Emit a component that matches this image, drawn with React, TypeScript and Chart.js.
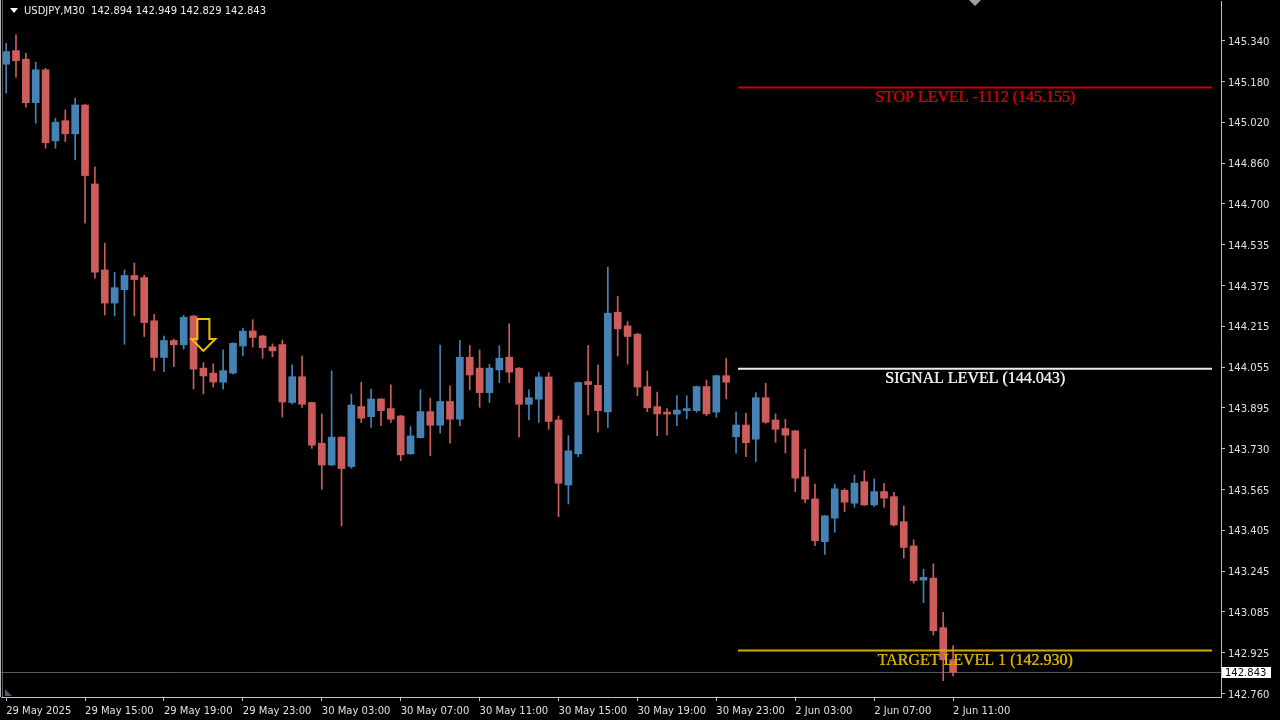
import { useEffect, useRef } from 'react';
import { Chart, registerables } from 'chart.js';

Chart.register(...registerables);

// ---------- data ----------
const SYMBOL = 'USDJPY,M30';

const OPEN = [
  145.247, 145.301, 145.267, 145.095, 145.225, 144.944, 145.024, 144.972, 145.086, 144.774,
  144.434, 144.303, 144.356, 144.412, 144.404, 144.233, 144.088, 144.155, 144.138, 144.252,
  144.046, 144.026, 143.990, 144.026, 144.133, 144.193, 144.173, 144.130, 144.139, 143.910,
  144.012, 143.910, 143.749, 143.663, 143.773, 143.657, 143.894, 143.854, 143.924, 143.886,
  143.857, 143.707, 143.771, 143.874, 143.820, 143.914, 143.844, 144.089, 144.046, 143.949,
  144.039, 144.089, 144.046, 143.903, 143.923, 144.011, 143.841, 143.584, 143.707, 143.993,
  143.978, 143.873, 144.267, 144.213, 144.180, 143.973, 143.894, 143.872, 143.864, 143.878,
  143.878, 143.973, 143.872, 144.016, 143.775, 143.821, 143.765, 143.929, 143.841, 143.807,
  143.798, 143.616, 143.529, 143.360, 143.453, 143.563, 143.512, 143.597, 143.505, 143.558,
  143.538, 143.439, 143.343, 143.208, 143.216, 143.020, 142.894,
];
const HIGH = [
  145.330, 145.363, 145.291, 145.255, 145.231, 145.034, 145.067, 145.113, 145.088, 144.842,
  144.540, 144.425, 144.434, 144.461, 144.414, 144.259, 144.173, 144.161, 144.255, 144.254,
  144.068, 144.063, 144.118, 144.146, 144.204, 144.237, 144.175, 144.142, 144.157, 144.059,
  144.094, 143.912, 143.865, 144.035, 143.775, 143.943, 143.990, 143.963, 143.926, 143.980,
  143.859, 143.815, 143.960, 143.927, 144.137, 143.976, 144.156, 144.135, 144.118, 144.061,
  144.135, 144.221, 144.048, 143.960, 144.028, 144.028, 143.857, 143.779, 143.991, 144.135,
  144.059, 144.445, 144.329, 144.230, 144.184, 144.035, 143.951, 143.886, 143.937, 143.937,
  143.975, 143.999, 144.018, 144.084, 143.873, 143.868, 143.949, 143.986, 143.865, 143.844,
  143.800, 143.725, 143.588, 143.464, 143.588, 143.569, 143.624, 143.640, 143.608, 143.591,
  143.555, 143.501, 143.367, 143.251, 143.272, 143.081, 142.949,
];
const LOW = [
  145.133, 145.196, 145.077, 145.014, 144.915, 144.915, 144.941, 144.869, 144.619, 144.401,
  144.256, 144.252, 144.140, 144.252, 144.171, 144.036, 144.032, 144.052, 144.121, 143.963,
  143.944, 143.971, 143.963, 144.023, 144.094, 144.129, 144.085, 144.091, 143.852, 143.904,
  143.891, 143.729, 143.567, 143.661, 143.422, 143.650, 143.831, 143.812, 143.818, 143.831,
  143.680, 143.705, 143.769, 143.700, 143.789, 143.749, 143.818, 143.960, 143.891, 143.910,
  143.989, 143.989, 143.773, 143.841, 143.831, 143.804, 143.459, 143.509, 143.696, 143.861,
  143.793, 143.812, 144.094, 144.061, 143.937, 143.874, 143.779, 143.782, 143.818, 143.846,
  143.872, 143.858, 143.852, 143.924, 143.710, 143.696, 143.676, 143.828, 143.753, 143.710,
  143.558, 143.514, 143.344, 143.310, 143.397, 143.479, 143.496, 143.503, 143.499, 143.495,
  143.422, 143.295, 143.196, 143.119, 142.991, 142.811, 142.829,
];
const CLOSE = [
  145.297, 145.261, 145.095, 145.225, 144.937, 145.018, 144.972, 145.086, 144.807, 144.425,
  144.303, 144.364, 144.412, 144.396, 144.226, 144.088, 144.155, 144.138, 144.247, 144.042,
  144.015, 143.991, 144.036, 144.144, 144.192, 144.167, 144.127, 144.114, 143.912, 144.012,
  143.903, 143.741, 143.663, 143.773, 143.649, 143.900, 143.848, 143.924, 143.878, 143.844,
  143.703, 143.778, 143.874, 143.820, 143.914, 143.844, 144.089, 144.019, 143.949, 144.046,
  144.085, 144.030, 143.903, 143.929, 144.011, 143.835, 143.591, 143.719, 143.989, 143.981,
  143.878, 144.263, 144.201, 144.171, 143.971, 143.889, 143.865, 143.864, 143.880, 143.886,
  143.973, 143.865, 144.016, 143.990, 143.821, 143.751, 143.929, 143.832, 143.804, 143.781,
  143.611, 143.528, 143.364, 143.462, 143.569, 143.516, 143.591, 143.505, 143.558, 143.532,
  143.426, 143.337, 143.206, 143.219, 143.008, 142.893, 142.843,
];

const X_LABEL_INDEX = [0, 8, 16, 24, 32, 40, 48, 56, 64, 72, 80, 88, 96];
const X_LABELS = [
  '29 May 2025', '29 May 15:00', '29 May 19:00', '29 May 23:00', '30 May 03:00',
  '30 May 07:00', '30 May 11:00', '30 May 15:00', '30 May 19:00', '30 May 23:00',
  '2 Jun 03:00', '2 Jun 07:00', '2 Jun 11:00',
];
const Y_TICK_LABELS = [
  '142.760', '142.925', '143.085', '143.245', '143.405', '143.565', '143.730', '143.895',
  '144.055', '144.215', '144.375', '144.535', '144.700', '144.860', '145.020', '145.180', '145.340',
];

const LEVEL_NAMES = ['STOP LEVEL -1112 (145.155)', 'SIGNAL LEVEL (144.043)', 'TARGET LEVEL 1 (142.930)'];
const LEVEL_PRICES = [145.155, 144.043, 142.93];
const LEVEL_COLORS = ['#cc0000', '#ececec', '#d4ac00'];
const LEVEL_START = 74.2;
const LEVEL_END = 122.25;

const SIGNAL_INDEX = 20;
const SIGNAL_PRICE = 144.114;

// ---------- view ----------
const X_MIN = -0.52;
const X_MAX = 123.16;
const Y_MIN = 142.746;
const Y_MAX = 145.497;

const UP = '#4682b4';
const DOWN = '#cd5c5c';
const AXIS_COLOR = '#c0c0c0';
const TEXT_COLOR = '#e0e0e0';
const AXIS_FONT = { family: 'DejaVu Sans', size: 10 };

const LAST = OPEN.length - 1;
const BID = CLOSE[LAST];

const Y_FIRST = parseFloat(Y_TICK_LABELS[0]);
const Y_LAST = parseFloat(Y_TICK_LABELS[Y_TICK_LABELS.length - 1]);
const Y_STEP = (Y_LAST - Y_FIRST) / (Y_TICK_LABELS.length - 1);

const candleColors = OPEN.map((o, i) => (CLOSE[i] >= o ? UP : DOWN));

const overlay = {
  id: 'mtOverlay',
  beforeDraw(chart: any) {
    const { ctx, width, height } = chart;
    ctx.save();
    ctx.fillStyle = '#000';
    ctx.fillRect(0, 0, width, height);
    ctx.restore();
  },
  afterDatasetsDraw(chart: any) {
    const { ctx, scales } = chart;
    const xs = scales.x;
    const ys = scales.y;
    ctx.save();
    // level labels
    ctx.font = '16px "Liberation Serif", "DejaVu Serif", serif';
    ctx.textAlign = 'center';
    ctx.textBaseline = 'middle';
    LEVEL_NAMES.forEach((name, k) => {
      const cx = (xs.getPixelForValue(LEVEL_START) + xs.getPixelForValue(LEVEL_END)) / 2;
      const cy = ys.getPixelForValue(LEVEL_PRICES[k]) + 10;
      ctx.fillStyle = LEVEL_COLORS[k];
      ctx.fillText(name, cx, cy);
      ctx.fillText(name, cx + 0.4, cy);
    });
    // signal arrow
    const tx = xs.getPixelForValue(SIGNAL_INDEX);
    const ty = ys.getPixelForValue(SIGNAL_PRICE);
    ctx.beginPath();
    ctx.moveTo(tx - 6, ty - 32);
    ctx.lineTo(tx + 6, ty - 32);
    ctx.lineTo(tx + 6, ty - 12);
    ctx.lineTo(tx + 12, ty - 12);
    ctx.lineTo(tx, ty);
    ctx.lineTo(tx - 12, ty - 12);
    ctx.lineTo(tx - 6, ty - 12);
    ctx.closePath();
    ctx.lineWidth = 2;
    ctx.lineJoin = 'miter';
    ctx.strokeStyle = '#f0c000';
    ctx.stroke();
    ctx.restore();
  },
  afterDraw(chart: any) {
    const { ctx, chartArea, scales } = chart;
    const ys = scales.y;
    ctx.save();
    // left frame
    ctx.fillStyle = '#b8b8b8';
    ctx.fillRect(0, 0, 1, chartArea.bottom);
    ctx.fillStyle = '#5a5a5a';
    ctx.fillRect(2, 0, 1, chartArea.bottom);
    // header
    ctx.fillStyle = '#ffffff';
    ctx.beginPath();
    ctx.moveTo(10, 8);
    ctx.lineTo(18, 8);
    ctx.lineTo(14, 13);
    ctx.closePath();
    ctx.fill();
    ctx.font = '10px "DejaVu Sans"';
    ctx.textAlign = 'left';
    ctx.textBaseline = 'middle';
    ctx.fillStyle = '#f0f0f0';
    const hdr = `${SYMBOL}  ${OPEN[LAST].toFixed(3)} ${HIGH[LAST].toFixed(3)} ${LOW[LAST].toFixed(3)} ${CLOSE[LAST].toFixed(3)}`;
    ctx.fillText(hdr, 24, 11.5);
    // chart shift marker
    ctx.fillStyle = '#9aa0a8';
    ctx.beginPath();
    ctx.moveTo(969, 0);
    ctx.lineTo(981, 0);
    ctx.lineTo(975, 6);
    ctx.closePath();
    ctx.fill();
    // bottom-left marker
    ctx.fillStyle = '#4a5a78';
    ctx.beginPath();
    ctx.moveTo(5, chartArea.bottom - 8);
    ctx.lineTo(5, chartArea.bottom - 1);
    ctx.lineTo(12, chartArea.bottom - 1);
    ctx.closePath();
    ctx.fill();
    // bid label
    const by = ys.getPixelForValue(BID);
    ctx.fillStyle = '#ffffff';
    ctx.fillRect(chartArea.right + 1, Math.round(by) - 5, 49, 11);
    ctx.fillStyle = '#000000';
    ctx.font = '10px "DejaVu Sans"';
    ctx.fillText(BID.toFixed(3), chartArea.right + 4, Math.round(by) + 1);
    ctx.restore();
  },
};

export default function App() {
  const ref = useRef<HTMLCanvasElement>(null);

  useEffect(() => {
    const wickData = OPEN.map((_, i) => ({ x: i, y: [LOW[i], HIGH[i]] }));
    const bodyData = OPEN.map((o, i) => ({ x: i, y: [Math.min(o, CLOSE[i]), Math.max(o, CLOSE[i])] }));

    const levelSets = LEVEL_PRICES.map((p, k) => ({
      type: 'line' as const,
      data: [
        { x: LEVEL_START, y: p },
        { x: LEVEL_END, y: p },
      ],
      borderColor: LEVEL_COLORS[k],
      borderWidth: 2,
      pointRadius: 0,
      order: 0,
    }));

    const chart = new Chart(ref.current as HTMLCanvasElement, {
      type: 'bar',
      data: {
        datasets: [
          {
            type: 'line',
            data: [
              { x: X_MIN, y: BID },
              { x: X_MAX, y: BID },
            ],
            borderColor: '#56606a',
            borderWidth: 1,
            pointRadius: 0,
            order: 5,
          } as any,
          {
            type: 'bar',
            data: wickData as any,
            backgroundColor: candleColors,
            borderWidth: 0,
            barThickness: 1,
            grouped: false,
            order: 3,
          } as any,
          {
            type: 'bar',
            data: bodyData as any,
            backgroundColor: candleColors,
            borderWidth: 0,
            barThickness: 7,
            minBarLength: 1,
            grouped: false,
            order: 2,
          } as any,
          ...(levelSets as any[]),
        ],
      },
      options: {
        responsive: false,
        animation: false,
        events: [],
        layout: { padding: { left: 1, top: 1, right: 0, bottom: 0 } },
        plugins: { legend: { display: false }, tooltip: { enabled: false } },
        scales: {
          x: {
            type: 'linear',
            min: X_MIN,
            max: X_MAX,
            offset: false,
            grid: {
              display: true,
              drawOnChartArea: false,
              drawTicks: true,
              tickLength: 4,
              color: AXIS_COLOR,
              offset: false,
            },
            border: { display: true, color: AXIS_COLOR, width: 1 },
            ticks: {
              autoSkip: false,
              maxRotation: 0,
              minRotation: 0,
              align: 'start',
              padding: 4,
              color: TEXT_COLOR,
              font: AXIS_FONT,
              callback: (_v: any, i: number) => X_LABELS[i] ?? '',
            },
            afterBuildTicks: (s: any) => {
              s.ticks = X_LABEL_INDEX.map((v) => ({ value: v }));
            },
            afterFit: (s: any) => {
              s.height = 23;
              s.paddingLeft = 0;
              s.paddingRight = 0;
              s.paddingTop = 0;
              s.paddingBottom = 0;
            },
          } as any,
          y: {
            type: 'linear',
            position: 'right',
            min: Y_MIN,
            max: Y_MAX,
            grid: {
              display: true,
              drawOnChartArea: false,
              drawTicks: true,
              tickLength: 4,
              color: AXIS_COLOR,
            },
            border: { display: true, color: AXIS_COLOR, width: 1 },
            ticks: {
              autoSkip: false,
              padding: 3,
              labelOffset: 1.5,
              color: TEXT_COLOR,
              font: AXIS_FONT,
              callback: (_v: any, i: number) => Y_TICK_LABELS[i] ?? '',
            },
            afterBuildTicks: (s: any) => {
              s.ticks = Y_TICK_LABELS.map((_, k) => ({ value: Y_FIRST + k * Y_STEP }));
            },
            afterFit: (s: any) => {
              s.width = 59;
              s.paddingTop = 0;
              s.paddingBottom = 0;
              s.paddingLeft = 0;
              s.paddingRight = 0;
            },
          } as any,
        },
      },
      plugins: [overlay],
    });

    return () => chart.destroy();
  }, []);

  return (
    <div style={{ position: 'fixed', left: 0, top: 0, width: 1280, height: 720, background: '#000' }}>
      <canvas ref={ref} width={1280} height={720} style={{ display: 'block' }} />
    </div>
  );
}
